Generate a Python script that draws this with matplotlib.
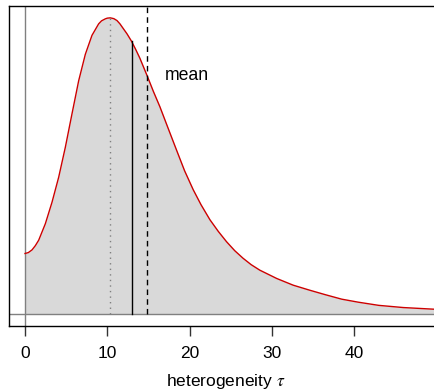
import matplotlib
matplotlib.use("Agg")
import matplotlib.pyplot as plt
import numpy as np

plt.rcParams['font.family'] = ['Liberation Sans', 'DejaVu Sans']
plt.rcParams['mathtext.fontset'] = 'stix'

# posterior density of tau (arbitrary density units)
tau = [0, 0.4, 0.85, 1.25, 1.66, 2.47, 3.28, 4.09, 4.9, 5.71, 6.52, 7.33, 8.14, 8.95, 9.3, 9.76,
       10.0, 10.37, 10.8, 11.18, 11.54, 11.9, 12.4, 12.92, 13.45, 13.97, 14.9, 15.6,
       16.4, 17.4, 18.43, 19.4, 20.45, 21.4, 22.48, 23.5, 24.5, 25.5, 26.5, 27.5,
       28.55, 30.6, 32.6, 34.6, 36.5, 38.5, 40.5, 43, 46, 49.6, 51]
dens = [60.7, 61.6, 64.3, 68.5, 74, 90.5, 112, 137, 167, 200.5, 233.5, 260, 279, 290.5, 293.5, 295.5,
        296.2, 296.5, 295.7, 293.8, 290.5, 286.3, 280.5, 273.5, 265, 256, 237.5, 223,
        207.5, 186, 164, 143.5, 124.5, 109.5, 94.5, 82.8, 72.5, 63.5, 56, 49.5,
        44, 35.7, 29, 24, 19.5, 15, 12, 8.8, 6.6, 5, 4.5]
dens = np.array(dens) / 5000.0

mode_tau = 10.3
median_tau = 12.95
mean_tau = 14.85

fig = plt.figure(figsize=(4.35, 3.9), dpi=100)
ax = fig.add_axes([9 / 435, 64 / 390, 433 / 435, 320 / 390])

ymax = dens.max()
ax.set_xlim(-1.95, 50.7)
ax.set_ylim(-0.04 * ymax, 1.04 * ymax)

ax.fill_between(tau, 0, dens, color='#d9d9d9', lw=0)
ax.axvline(0, color='#808080', lw=1)
ax.axhline(0, color='#808080', lw=1)
ax.plot(tau, dens, color='#cd0000', lw=1)

ax.plot([mode_tau, mode_tau], [0, np.interp(mode_tau, tau, dens)], color='#808080', lw=1, ls=(0, (1, 3)))
ax.plot([median_tau, median_tau], [0, np.interp(median_tau, tau, dens)], color='black', lw=1)
ax.plot([mean_tau, mean_tau], [0, 1.04 * ymax], color='black', lw=1, ls=(0, (4, 3)))
ax.text(17.0, np.interp(mean_tau, tau, dens), 'mean', fontsize=12.7, va='center', ha='left')

ax.set_yticks([])
ax.set_xticks([0, 10, 20, 30, 40])
ax.tick_params(axis='x', length=7.5, width=1, pad=7, labelsize=12.5, color='#333333')
ax.set_xlabel(r'heterogeneity $\tau$', fontsize=12.5, labelpad=8)
for s in ax.spines.values():
    s.set_linewidth(1)
    s.set_color('black')
ax.spines['right'].set_visible(False)

fig.savefig('out.png', dpi=100)
